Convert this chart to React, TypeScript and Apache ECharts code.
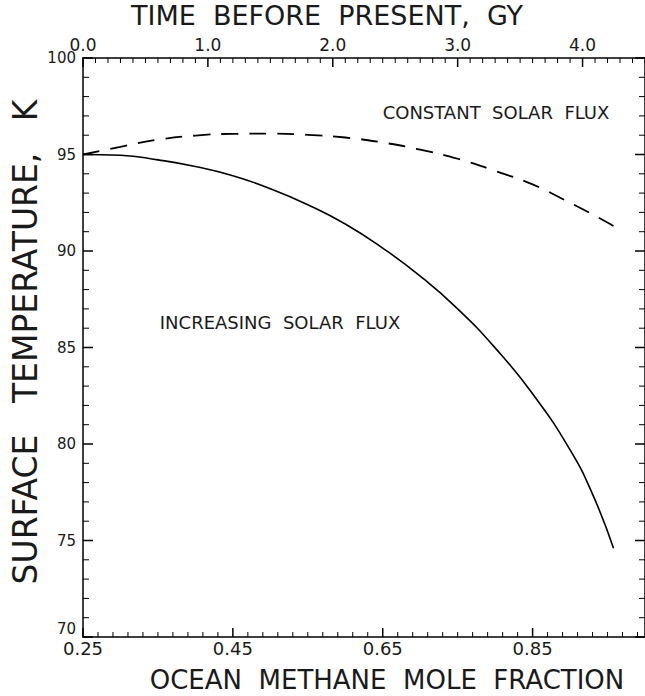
import React, { useEffect, useRef } from "react";
import * as echarts from "echarts";

// Ocean methane mole fraction (bottom axis), one value per point of the curves
const methaneFraction = [0.25, 0.3, 0.35, 0.4, 0.45, 0.5, 0.55, 0.6, 0.65, 0.7, 0.75, 0.8, 0.85, 0.9, 0.93, 0.958];
// Surface temperature, K — increasing solar flux (solid)
const tempIncreasing = [95.0, 94.96, 94.72, 94.38, 93.9, 93.23, 92.4, 91.4, 90.15, 88.7, 87.0, 84.98, 82.6, 79.7, 77.4, 74.6];
// Surface temperature, K — constant solar flux (dashed)
const tempConstant = [95.0, 95.4, 95.77, 95.98, 96.07, 96.08, 96.02, 95.88, 95.62, 95.25, 94.78, 94.15, 93.45, 92.5, 91.9, 91.3];

const bottomTickLabels = ["0.25", "0.45", "0.65", "0.85"];
const topTickLabels = ["0.0", "1.0", "2.0", "3.0", "4.0"];
const leftTickLabels = ["70", "75", "80", "85", "90", "95", "100"];

// tick-mark positions: [value, isMajor]
const bottomTicks: [number, number][] = [];
for (let k = 0; k <= 37; k++) bottomTicks.push([+(0.25 + k * 0.02).toFixed(2), k % 10 === 0 ? 1 : 0]);
const topTicks: [number, number][] = [];
for (let k = 0; k <= 45; k++) topTicks.push([+(k * 0.1).toFixed(1), k % 10 === 0 ? 1 : 0]);
const sideTicks: [number, number][] = [];
for (let k = 0; k <= 30; k++) sideTicks.push([70 + k, k % 5 === 0 ? 1 : 0]);

const FONT = "DejaVu Sans";
const INK = "#1a1a1a";

// plot frame geometry (px)
const W = 645;
const LEFT = 83;
const RIGHT_EDGE = 649; // frame's right side, just past the page edge
const TOP = 58;
const BOTTOM = 59;

export default function App() {
  const ref = useRef<HTMLDivElement>(null);
  useEffect(() => {
    if (!ref.current) return;
    const chart = echarts.init(ref.current, null, { renderer: "svg" });
    const frame = () => ({ color: "#000", width: 1.5 });
    const tickSeries = (
      data: [number, number][],
      xAxisIndex: number,
      toPoint: (v: number) => number[],
      dir: (major: boolean) => [number, number],
    ) => ({
      type: "custom",
      xAxisIndex,
      yAxisIndex: 0,
      silent: true,
      clip: false,
      z: 5,
      data,
      renderItem: (_p: any, api: any) => {
        const v = api.value(0);
        const major = api.value(1) === 1;
        const p = api.coord(toPoint(v));
        const [dx, dy] = dir(major);
        return {
          type: "line",
          shape: { x1: p[0], y1: p[1], x2: p[0] + dx, y2: p[1] + dy },
          style: { stroke: "#000", lineWidth: major ? 1.5 : 1 },
        };
      },
    });
    const option: any = {
      animation: false,
      grid: { left: LEFT, right: W - RIGHT_EDGE, top: TOP, bottom: BOTTOM },
      xAxis: [
        {
          type: "value", position: "bottom", min: 0.25, max: 1.0, interval: 0.2,
          axisLine: { show: true, lineStyle: frame() },
          axisTick: { show: false },
          axisLabel: {
            fontFamily: FONT, fontSize: 18, color: INK, margin: 2, showMaxLabel: false,
            formatter: (v: number) => bottomTickLabels.find((t) => Math.abs(parseFloat(t) - v) < 1e-6) || "",
          },
          splitLine: { show: false },
        },
        {
          type: "value", position: "top", min: 0, max: 4.5, interval: 1,
          axisLine: { show: true, lineStyle: frame() },
          axisTick: { show: false },
          axisLabel: {
            fontFamily: FONT, fontSize: 17, color: INK, margin: 5, showMaxLabel: false,
            formatter: (v: number) => topTickLabels.find((t) => Math.abs(parseFloat(t) - v) < 1e-6) || "",
          },
          splitLine: { show: false },
        },
      ],
      yAxis: [
        {
          type: "value", position: "left", min: 70, max: 100, interval: 5,
          axisLine: { show: true, lineStyle: frame() },
          axisTick: { show: false },
          axisLabel: {
            fontFamily: FONT, fontSize: 15, color: INK, margin: 7,
            formatter: (v: number) => {
              const t = leftTickLabels.find((s) => parseFloat(s) === v) || "";
              return v === 70 ? `{low|${t}}` : t;
            },
            rich: { low: { fontFamily: FONT, fontSize: 15, color: INK, padding: [0, 0, 16, 0] } },
          },
          splitLine: { show: false },
        },
        {
          type: "value", position: "right", min: 70, max: 100, interval: 5,
          axisLine: { show: true, lineStyle: frame() },
          axisTick: { show: false },
          axisLabel: { show: false },
          splitLine: { show: false },
        },
      ],
      series: [
        {
          name: "INCREASING SOLAR FLUX",
          type: "line", xAxisIndex: 0, yAxisIndex: 0, smooth: true, symbol: "none",
          lineStyle: { color: "#000", width: 1.6, type: "solid" },
          data: methaneFraction.map((x, i) => [x, tempIncreasing[i]]),
        },
        {
          name: "CONSTANT SOLAR FLUX",
          type: "line", xAxisIndex: 0, yAxisIndex: 0, smooth: true, symbol: "none",
          lineStyle: { color: "#000", width: 1.8, type: [17, 11] },
          data: methaneFraction.map((x, i) => [x, tempConstant[i]]),
        },
        // bottom axis ticks (pointing up, into the plot)
        tickSeries(bottomTicks, 0, (v) => [v, 70], (m) => [0, m ? -9 : -5]),
        // top axis ticks (pointing down)
        tickSeries(topTicks, 1, (v) => [v, 100], (m) => [0, m ? 9 : 5]),
        // left axis ticks (pointing right)
        tickSeries(sideTicks, 0, (v) => [0.25, v], (m) => [m ? 10 : 6, 0]),
        // right axis ticks (pointing left)
        tickSeries(sideTicks, 0, (v) => [1.0, v], (m) => [m ? -10 : -6, 0]),
      ],
      graphic: [
        {
          type: "text", x: 327, y: 15,
          style: { text: "TIME  BEFORE  PRESENT,  GY", fill: INK, font: `27px "${FONT}"`, align: "center", verticalAlign: "middle" },
        },
        {
          type: "text", x: 387, y: 680,
          style: { text: "OCEAN  METHANE  MOLE  FRACTION", fill: INK, font: `26px "${FONT}"`, align: "center", verticalAlign: "middle" },
        },
        {
          type: "text", x: 25, y: 342, rotation: Math.PI / 2,
          style: { text: "SURFACE   TEMPERATURE,   K", fill: INK, font: `33px "${FONT}"`, align: "center", verticalAlign: "middle" },
        },
        {
          type: "text", x: 496, y: 112,
          style: { text: "CONSTANT  SOLAR  FLUX", fill: INK, font: `18px "${FONT}"`, align: "center", verticalAlign: "middle" },
        },
        {
          type: "text", x: 280, y: 322,
          style: { text: "INCREASING  SOLAR  FLUX", fill: INK, font: `18px "${FONT}"`, align: "center", verticalAlign: "middle" },
        },
      ],
    };
    chart.setOption(option);
    return () => chart.dispose();
  }, []);
  return (
    <div
      ref={ref}
      style={{ position: "fixed", left: 0, top: 0, width: W, height: 696, background: "#fff" }}
    />
  );
}
